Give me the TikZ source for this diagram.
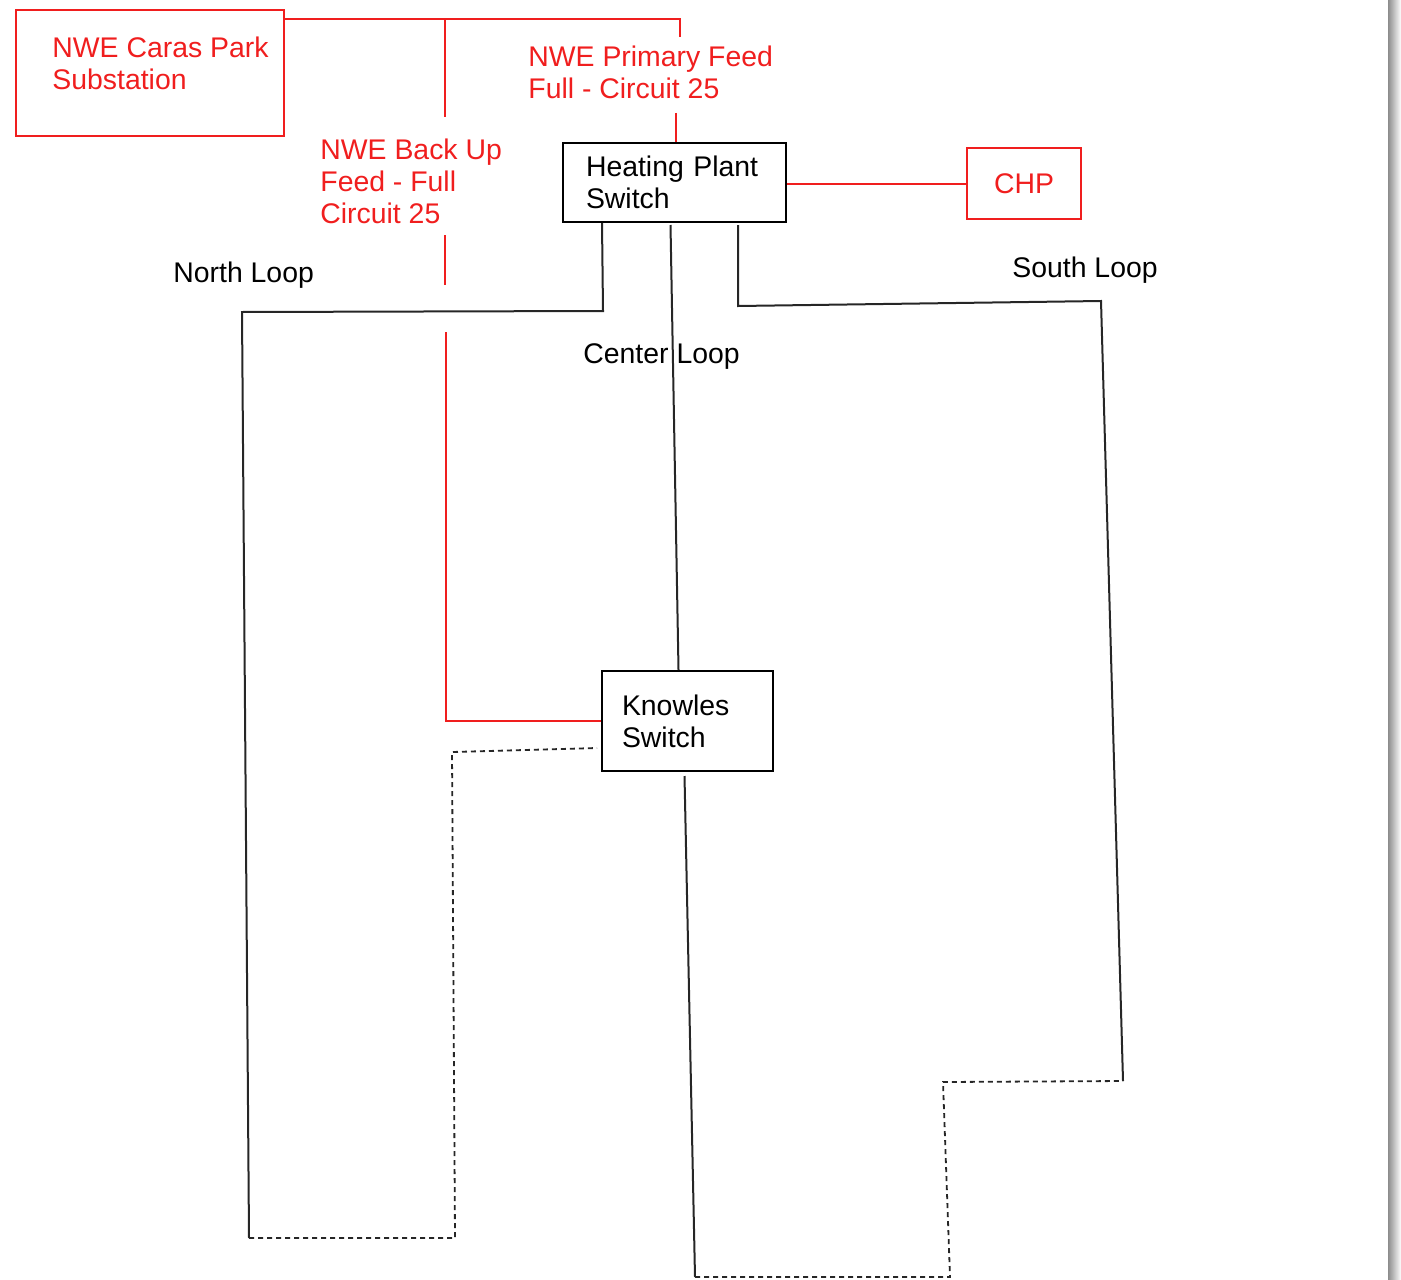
\documentclass[tikz,border=0pt]{standalone}
\usepackage{fontspec}
\setmainfont{Liberation Sans}
\usetikzlibrary{positioning,calc}
\definecolor{feedred}{RGB}{240,30,30}
\tikzset{
  feedbox/.style={draw=feedred, line width=1pt, inner sep=0pt},
  switchbox/.style={draw=black, line width=1pt, align=left, inner ysep=0pt},
  feed/.style={draw=feedred, line width=1pt},
  loopline/.style={draw=black!85, line width=1pt},
  openline/.style={draw=black!85, line width=0.9pt, dash pattern=on 2.5pt off 2pt},
  tag/.style={anchor=north west, inner sep=0pt, align=left}
}

\begin{document}
\begin{tikzpicture}[x=0.5pt, y=-0.5pt, font=\fontsize{14.2}{16}\selectfont]
    \useasboundingbox (0,0) rectangle (1401,1279);

    % Page shadow
    \shade[left color=black!45, right color=white] (1388,0) rectangle (1401,1279);

    % Boxes
    \node[feedbox, minimum width=134pt, minimum height=63pt] (sub) at (150,73) {};
    \node[tag, text=feedred] (subtext) at (52,37) {NWE Caras Park\\Substation};
    \node[switchbox, text width=88.5pt, inner xsep=11.5pt, minimum height=39.5pt] (hps) at (674.5,182.5) {Heating Plant\\Switch};
    \node[feedbox, text=feedred, minimum width=57pt, minimum height=35.5pt] (chp) at (1024,183.5) {CHP};
    \node[switchbox, text width=65.5pt, inner xsep=10pt, minimum height=50pt] (knowles) at (687.5,721) {Knowles\\Switch};

    % Labels
    \node[tag, text=feedred] (primary) at (528,46) {NWE Primary Feed\\Full - Circuit 25};
    \node[tag, text=feedred] (backup) at (320,139) {NWE Back Up\\Feed - Full\\Circuit 25};
    \node[tag] (north) at (173,262) {North Loop};
    \node[tag] (center) at (583,343) {Center Loop};
    \node[tag] (south) at (1012,257) {South Loop};

    % Feed lines
    \coordinate (tee) at (445,19);
    \coordinate (pritop) at (680,37);
    \coordinate (pribot) at (676,113);
    \draw[feed] (sub.east |- tee) -| (pritop);
    \draw[feed] (pribot) -- (pribot |- hps.north);
    \draw[feed] (tee) -- (445,117);
    \draw[feed] (445,235) -- (445,285);
    \draw[feed] (446,332) |- (knowles.west);
    \draw[feed] (hps.east |- chp.west) -- (chp.west);

    % North loop
    \draw[loopline] ($(hps.south west)+(40,0)$) -- (603,311) -- (242,312) -- (249,1238);
    \draw[openline] (249,1238) -- (455,1238) -- (452,752) -- ($(knowles.west)+(-4,27)$);

    % Center loop
    \draw[loopline] ($(hps.south)+(-4,2)$) -- ($(knowles.north)+(-9,0)$);
    \draw[loopline] ($(knowles.south)+(-3,4)$) -- (695,1277);
    \draw[openline] (695,1277) -- (950,1277) -- (943,1082) -- (1123,1081);

    % South loop
    \draw[loopline] (1123,1081) -- (1101,301) -- (738,306) -- ($(hps.south east)+(-49,2)$);

\end{tikzpicture}
\end{document}
